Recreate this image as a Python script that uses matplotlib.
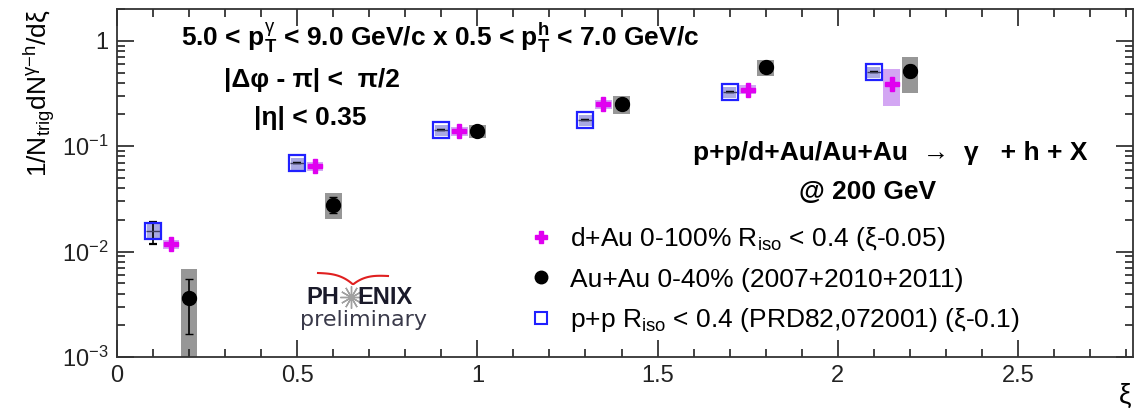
import numpy as np
import matplotlib
matplotlib.use("Agg")
import matplotlib.pyplot as plt
from matplotlib.ticker import FixedLocator, LogLocator, NullFormatter, MultipleLocator

plt.rcParams['font.family'] = ['Liberation Sans', 'DejaVu Sans']
plt.rcParams['mathtext.fontset'] = 'custom'
plt.rcParams['mathtext.rm'] = 'Liberation Sans'
plt.rcParams['mathtext.it'] = 'Liberation Sans'
plt.rcParams['mathtext.bf'] = 'Liberation Sans:bold'

# p+p (shifted by -0.1 in xi)
pp_x = [0.1, 0.5, 0.9, 1.3, 1.7, 2.1]
pp_y = [0.0158, 0.069, 0.142, 0.177, 0.327, 0.507]
pp_err_lo = [0.0039, 0.0, 0.0, 0.0, 0.0, 0.0]
pp_err_hi = [0.0034, 0.0, 0.0, 0.0, 0.0, 0.0]
pp_sys = [0.0025, 0.009, 0.017, 0.022, 0.04, 0.06]

# d+Au (shifted by -0.05)
dau_x = [0.15, 0.55, 0.95, 1.35, 1.75, 2.15]
dau_y = [0.0117, 0.0645, 0.139, 0.251, 0.342, 0.39]
dau_sys_lo = [0.0106, 0.058, 0.126, 0.227, 0.31, 0.24]
dau_sys_hi = [0.0129, 0.071, 0.153, 0.277, 0.377, 0.54]

# Au+Au 0-40%
auau_x = [0.2, 0.6, 1.0, 1.4, 1.8, 2.2]
auau_y = [0.00365, 0.0274, 0.139, 0.251, 0.565, 0.52]
auau_err_lo = [0.00199, 0.0044, 0.008, 0.012, 0.03, 0.07]
auau_err_hi = [0.00185, 0.0053, 0.008, 0.012, 0.03, 0.07]
auau_sys_lo = [0.0009, 0.0206, 0.12, 0.202, 0.464, 0.32]
auau_sys_hi = [0.0069, 0.0356, 0.16, 0.299, 0.659, 0.705]

magenta = '#e000f0'
blue = '#2020ff'

fig = plt.figure(figsize=(11.47, 4.13), dpi=100)
ax = fig.add_axes([0.102, 0.1356, 0.886, 0.8424])
ax.set_yscale('log')
ax.set_xlim(0, 2.82)
ax.set_ylim(1e-3, 2.0)

bw = 0.046
# systematic boxes
ax.bar(auau_x, np.array(auau_sys_hi) - np.array(auau_sys_lo), bottom=auau_sys_lo,
       width=bw, color='#8c8c8c', alpha=0.9, zorder=1)
ax.bar(dau_x, np.array(dau_sys_hi) - np.array(dau_sys_lo), bottom=dau_sys_lo,
       width=bw, color='#c890f0', alpha=0.8, zorder=1)
pp_lo = np.array(pp_y) - np.array(pp_sys)
ax.bar(pp_x, 2 * np.array(pp_sys), bottom=pp_lo,
       width=0.036, color='#a0a0e0', alpha=0.9, zorder=1)

ax.errorbar(pp_x, pp_y, yerr=[pp_err_lo, pp_err_hi], fmt='s', ms=11,
            mfc='none', mec=blue, mew=1.6, ecolor='black', elinewidth=1.2,
            capsize=3, zorder=3)
ax.plot(pp_x, pp_y, '_', ms=10, color='#404060', mew=1.0, zorder=3)
ax.plot(dau_x, dau_y, 'P', ms=10, color=magenta, mec=magenta, zorder=3)
ax.errorbar(auau_x, auau_y, yerr=[auau_err_lo, auau_err_hi], fmt='o', ms=10,
            color='black', ecolor='black', elinewidth=1.2, capsize=3, zorder=4)

# axis styling
ax.xaxis.set_major_locator(MultipleLocator(0.5))
ax.xaxis.set_minor_locator(MultipleLocator(0.1))
ax.yaxis.set_major_locator(FixedLocator([1e-3, 1e-2, 1e-1, 1]))
ax.yaxis.set_minor_locator(LogLocator(base=10, subs=np.arange(2, 10)))
ax.yaxis.set_minor_formatter(NullFormatter())
ax.set_xticks([0, 0.5, 1, 1.5, 2, 2.5])
ax.set_xticklabels(['0', '0.5', '1', '1.5', '2', '2.5'])
ax.set_yticklabels([r'10$^{-3}$', r'10$^{-2}$', r'10$^{-1}$', '1'])
ax.tick_params(which='both', direction='in', top=True, right=True,
               labelsize=17, width=1.2, colors='#222222')
ax.tick_params(which='major', length=12, pad=6)
ax.tick_params(which='minor', length=6)
for s in ax.spines.values():
    s.set_linewidth(1.3)
    s.set_color('#333333')

ax.set_ylabel(r'1/N$_{\rm trig}$dN$^{\gamma\mathrm{-h}}$/d$\xi$', fontsize=19,
              loc='top', labelpad=4)
fig.text(1125 / 1147, 1 - 396 / 413, 'ξ', fontsize=20, ha='center', va='center')

# kinematic cuts
fs = 19
fig.text(440 / 1147, 1 - 38 / 413,
         r'5.0 < $\mathbf{p}_\mathbf{T}^{\gamma}$ < 9.0 GeV/c x 0.5 < $\mathbf{p}_\mathbf{T}^{\mathbf{h}}$ < 7.0 GeV/c',
         fontsize=fs, fontweight='bold', ha='center', va='center')
fig.text(312 / 1147, 1 - 80 / 413, '|Δφ - π| <  π/2',
         fontsize=fs, fontweight='bold', ha='center', va='center')
fig.text(310 / 1147, 1 - 118 / 413, '|η| < 0.35',
         fontsize=fs, fontweight='bold', ha='center', va='center')
fig.text(890 / 1147, 1 - 153 / 413, 'p+p/d+Au/Au+Au  →  γ   + h + X',
         fontsize=fs, fontweight='bold', ha='center', va='center')
fig.text(868 / 1147, 1 - 192 / 413, '@ 200 GeV',
         fontsize=fs, fontweight='bold', ha='center', va='center')

# legend
h_dau = plt.Line2D([], [], marker='P', ls='none', ms=9, color=magenta)
h_auau = plt.Line2D([], [], marker='o', ls='none', ms=9, color='black')
h_pp = plt.Line2D([], [], marker='s', ls='none', ms=9, mfc='none', mec=blue, mew=1.5)
leg = fig.legend([h_dau, h_auau, h_pp],
                 [r'd+Au 0-100% R$_{\rm iso}$ < 0.4 (ξ-0.05)',
                  'Au+Au 0-40% (2007+2010+2011)',
                  r'p+p R$_{\rm iso}$ < 0.4 (PRD82,072001) (ξ-0.1)'],
                 loc='upper left', bbox_to_anchor=(528 / 1147, 1 - 225 / 413),
                 frameon=False, fontsize=fs, handlelength=1.0, handletextpad=0.6,
                 labelspacing=0.55, borderpad=0, borderaxespad=0)

# PHENIX preliminary logo
fig.text(306 / 1147, 1 - 297 / 413, 'PH', fontsize=17, fontweight='bold',
         color='#1a1a2a', ha='left', va='center')
fig.text(357 / 1147, 1 - 297 / 413, 'ENIX', fontsize=17, fontweight='bold',
         color='#1a1a2a', ha='left', va='center')
fig.text(364 / 1147, 1 - 320 / 413, 'preliminary', fontsize=16,
         color='#3a3a4a', ha='center', va='center', family='DejaVu Sans')
fig.lines.append(plt.Line2D([351 / 1147], [1 - 297 / 413], marker=(12, 2, 0), ms=16,
                            mec='#a0a0a0', mew=1.0, transform=fig.transFigure))
t = np.linspace(0, 1, 60)
arc_x = 318 + 70 * t
arc_y = 273 + 10 * (1 - np.abs(2 * t - 1)) ** 3 + 3 * t
fig.lines.append(plt.Line2D(arc_x / 1147, 1 - arc_y / 413, color='#e02020', lw=1.5,
                            transform=fig.transFigure))

fig.savefig('out.png', dpi=100)
